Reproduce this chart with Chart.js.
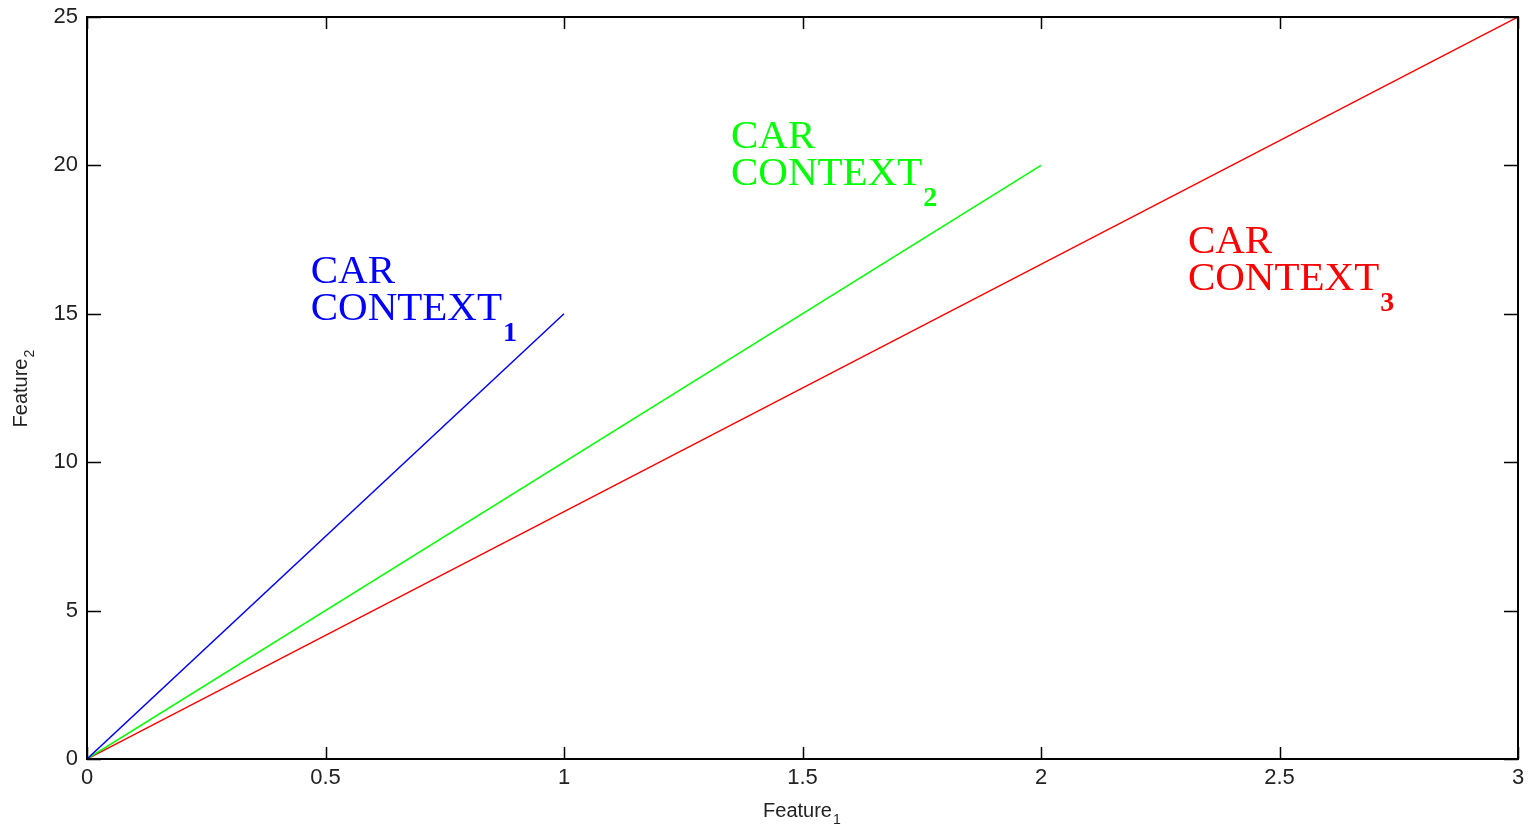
<!DOCTYPE html>
<html>
<head>
<meta charset="utf-8">
<script src="https://cdn.jsdelivr.net/npm/chart.js@4"></script>
<style>
  html, body { margin: 0; padding: 0; background: #fff; }
  #wrap { width: 1529px; height: 827px; }
</style>
</head>
<body>
<div id="wrap"><canvas id="chart" width="1529" height="827"></canvas></div>
<script>
// ===== DATA =====
const context1X = [0, 1];
const context1Y = [0, 15];
const context2X = [0, 2];
const context2Y = [0, 20];
const context3X = [0, 3];
const context3Y = [0, 25];

const xTicks = [0, 0.5, 1, 1.5, 2, 2.5, 3];
const yTicks = [0, 5, 10, 15, 20, 25];

const lineColors = ['#0000ff', '#00ff00', '#ff0000'];
const labelLine1 = ['CAR', 'CAR', 'CAR'];
const labelLine2 = ['CONTEXT', 'CONTEXT', 'CONTEXT'];
const labelSubs = ['1', '2', '3'];
const labelX = [0.469, 1.35, 2.308];
const labelY = [16.04, 20.59, 17.05];

const toPoints = (xs, ys) => xs.map((x, i) => ({ x, y: ys[i] }));

// ===== PLUGIN: frame, inward ticks, labels, axis titles =====
const matlabFrame = {
  id: 'matlabFrame',
  afterDatasetsDraw(chart) {
    const { ctx, chartArea: a, scales } = chart;
    ctx.save();
    ctx.strokeStyle = '#000';
    ctx.lineWidth = 2;
    ctx.strokeRect(a.left, a.top, a.right - a.left, a.bottom - a.top);

    ctx.lineWidth = 1.5;
    ctx.beginPath();
    xTicks.forEach(v => {
      const px = Math.round(scales.x.getPixelForValue(v)) + 0.5;
      ctx.moveTo(px, a.bottom); ctx.lineTo(px, a.bottom - 12);
      ctx.moveTo(px, a.top); ctx.lineTo(px, a.top + 12);
    });
    yTicks.forEach(v => {
      const py = Math.round(scales.y.getPixelForValue(v)) + 0.5;
      ctx.moveTo(a.left, py); ctx.lineTo(a.left + 14, py);
      ctx.moveTo(a.right, py); ctx.lineTo(a.right - 14, py);
    });
    ctx.stroke();

    // curve labels
    ctx.textAlign = 'left';
    ctx.textBaseline = 'alphabetic';
    labelX.forEach((lx, i) => {
      const px = scales.x.getPixelForValue(lx);
      const py = scales.y.getPixelForValue(labelY[i]);
      ctx.fillStyle = lineColors[i];
      ctx.font = '41px "Liberation Serif", "Times New Roman", serif';
      ctx.fillText(labelLine1[i], px, py);
      ctx.fillText(labelLine2[i], px, py + 37);
      const w = ctx.measureText(labelLine2[i]).width;
      ctx.font = 'bold 28px "Liberation Serif", "Times New Roman", serif';
      ctx.fillText(labelSubs[i], px + w + 1, py + 37 + 21);
    });

    // axis titles
    ctx.fillStyle = '#222';
    ctx.font = '20px "Liberation Sans", Arial, sans-serif';
    const mainW = ctx.measureText('Feature').width;
    const cx = (a.left + a.right) / 2;
    const tx = cx - (mainW + 10) / 2;
    ctx.fillText('Feature', tx, 817);
    ctx.font = '14px "Liberation Sans", Arial, sans-serif';
    ctx.fillText('1', tx + mainW + 1, 824);

    ctx.translate(27, (a.top + a.bottom) / 2 + (mainW + 10) / 2);
    ctx.rotate(-Math.PI / 2);
    ctx.font = '20px "Liberation Sans", Arial, sans-serif';
    ctx.fillText('Feature', 0, 0);
    ctx.font = '14px "Liberation Sans", Arial, sans-serif';
    ctx.fillText('2', mainW + 1, 7);
    ctx.restore();
  }
};

const tickFont = { family: '"Liberation Sans", Arial, sans-serif', size: 22 };

new Chart(document.getElementById('chart'), {
  type: 'scatter',
  data: {
    datasets: [
      { data: toPoints(context1X, context1Y), borderColor: lineColors[0] },
      { data: toPoints(context2X, context2Y), borderColor: lineColors[1] },
      { data: toPoints(context3X, context3Y), borderColor: lineColors[2] }
    ].map(d => ({ ...d, showLine: true, pointRadius: 0, borderWidth: 1.5, fill: false }))
  },
  options: {
    responsive: false,
    animation: false,
    layout: { padding: { top: 17, right: 11, left: 0, bottom: 0 } },
    plugins: { legend: { display: false }, tooltip: { enabled: false } },
    scales: {
      x: {
        type: 'linear', min: 0, max: 3,
        afterBuildTicks: s => { s.ticks = xTicks.map(v => ({ value: v })); },
        afterFit: s => { s.height = 68; s.paddingLeft = 0; s.paddingRight = 0; },
        grid: { display: false, drawTicks: false },
        border: { display: false },
        ticks: { color: '#222', font: tickFont, padding: 6, maxRotation: 0, callback: v => String(v) }
      },
      y: {
        type: 'linear', min: 0, max: 25,
        afterBuildTicks: s => { s.ticks = yTicks.map(v => ({ value: v })); },
        afterFit: s => { s.width = 87; s.paddingTop = 0; s.paddingBottom = 0; },
        grid: { display: false, drawTicks: false },
        border: { display: false },
        ticks: { color: '#222', font: tickFont, padding: 9, callback: v => String(v) }
      }
    }
  },
  plugins: [matlabFrame]
});
</script>
</body>
</html>
